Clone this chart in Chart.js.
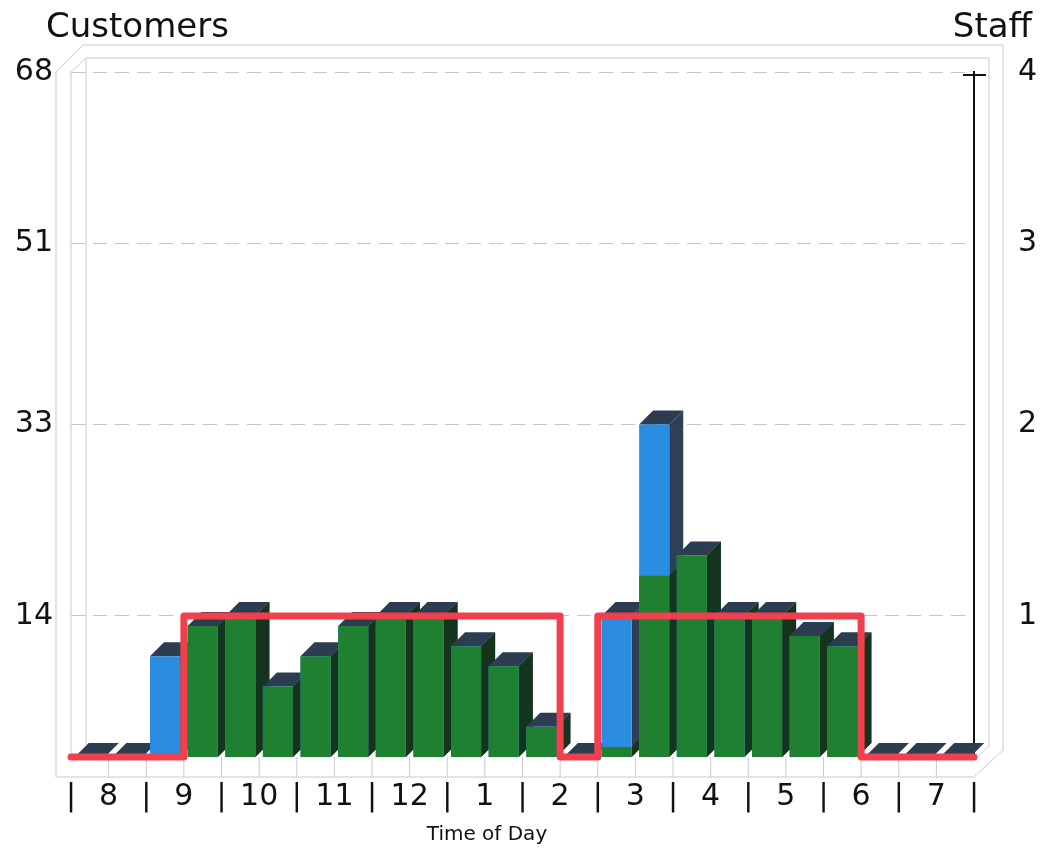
<!DOCTYPE html>
<html>
<head>
<meta charset="utf-8">
<script src="https://cdn.jsdelivr.net/npm/chart.js@4.4.0/dist/chart.umd.min.js"></script>
<style>
  body { margin: 0; background: #fff; }
  #wrap { width: 1040px; height: 848px; }
</style>
</head>
<body>
<div id="wrap"><canvas id="staffChart" width="1040" height="848"></canvas></div>
<script>
// half-hour slots, 8:00 to 7:30
const slotLabels = ['8:00', '8:30', '9:00', '9:30', '10:00', '10:30', '11:00', '11:30',
    '12:00', '12:30', '1:00', '1:30', '2:00', '2:30', '3:00', '3:30',
    '4:00', '4:30', '5:00', '5:30', '6:00', '6:30', '7:00', '7:30'];
const hourLabels = ['8', '9', '10', '11', '12', '1', '2', '3', '4', '5', '6', '7'];

// blue = all customers, green = customers being served
const customers = [0, 0, 10, 13, 14, 7, 10, 13, 14, 14, 11, 9, 3, 0, 14, 33, 20, 14, 14, 12, 11, 0, 0, 0];
const served    = [0, 0, 0, 13, 14, 7, 10, 13, 14, 14, 11, 9, 3, 0, 1, 18, 20, 14, 14, 12, 11, 0, 0, 0];
const staff     = [0, 0, 0, 1, 1, 1, 1, 1, 1, 1, 1, 1, 1, 0, 1, 1, 1, 1, 1, 1, 1, 0, 0, 0];

const customerTicks = [14, 33, 51, 68];
const staffTicks = [1, 2, 3, 4];
// staff axis is drawn against the customer gridlines (0,1,2,3,4 -> 0,14,33,51,68)
const staffLevels = [0, 14, 33, 51, 68];

const FONT = 'DejaVu Sans';
const INK = '#111';
const FRAME = '#c9c9cf';
const DEPTH = 14;

function staffPoints() {
    let pts = [];
    for (let i = 0; i < staff.length; i++) {
        pts.push({ x: i, y: staffLevels[staff[i]] });
        pts.push({ x: i + 1, y: staffLevels[staff[i]] });
    }
    return pts;
}

function poly(ctx, pts, fill) {
    ctx.beginPath();
    ctx.moveTo(pts[0][0], pts[0][1]);
    for (let k = 1; k < pts.length; k++) ctx.lineTo(pts[k][0], pts[k][1]);
    ctx.closePath();
    ctx.fillStyle = fill;
    ctx.fill();
}

function line(ctx, x1, y1, x2, y2) {
    ctx.beginPath();
    ctx.moveTo(x1, y1);
    ctx.lineTo(x2, y2);
    ctx.stroke();
}

// box frame + 3D faces of the bars, under the library's front faces
const depthPlugin = {
    id: 'depth',
    beforeDatasetsDraw(chart) {
        const ctx = chart.ctx;
        const a = chart.chartArea;
        const L = a.left, R = a.right, T = a.top, B = a.bottom;
        ctx.save();
        ctx.strokeStyle = FRAME;
        ctx.lineWidth = 1;
        // outer box
        line(ctx, L - 15, T, L - 15, B + 20);
        line(ctx, L - 15, B + 20, R, B + 20);
        line(ctx, L - 15, T, L + 12, T - 27);
        line(ctx, L + 12, T - 27, R + 29, T - 27);
        line(ctx, R + 29, T - 27, R + 29, B - 7);
        line(ctx, R, B + 20, R + 29, B - 7);
        // inner box
        line(ctx, L, T, L, B);
        line(ctx, L, T, L + 15, T - 14);
        line(ctx, L + 15, T - 14, L + 15, B - 12);
        line(ctx, L + 15, T - 14, R + 15, T - 14);
        line(ctx, R + 15, T - 14, R + 15, B - 11);
        line(ctx, R, B + 3, R + 15, B - 11);
        // floor divisions
        const step = (R - L) / slotLabels.length;
        for (let i = 1; i < slotLabels.length; i++) {
            line(ctx, L + i * step, B, L + i * step, B + 20);
        }
        ctx.restore();

        const blue = chart.getDatasetMeta(2).data;
        const green = chart.getDatasetMeta(1).data;
        ctx.save();
        for (let j = 0; j < blue.length; j++) {
            const b = blue[j], g = green[j];
            const x0 = b.x - b.width / 2, x1 = b.x + b.width / 2;
            const top = b.y, base = b.base;
            poly(ctx, [[x1, top], [x1 + DEPTH, top - DEPTH], [x1 + DEPTH, base - DEPTH], [x1, base]], '#2d4055');
            if (served[j] > 0) {
                poly(ctx, [[x1, g.y], [x1 + DEPTH, g.y - DEPTH], [x1 + DEPTH, base - DEPTH], [x1, base]], '#15341d');
            }
            poly(ctx, [[x0, top], [x0 + DEPTH, top - DEPTH], [x1 + DEPTH, top - DEPTH], [x1, top]], '#2c3d52');
        }
        ctx.restore();
    },
    afterDraw(chart) {
        const ctx = chart.ctx;
        const a = chart.chartArea;
        ctx.save();
        ctx.strokeStyle = '#111';
        ctx.lineWidth = 2;
        line(ctx, a.right - 11, a.top + 3, a.right + 12, a.top + 3);
        ctx.fillStyle = INK;
        ctx.textBaseline = 'alphabetic';
        ctx.font = '34px "' + FONT + '"';
        ctx.textAlign = 'left';
        ctx.fillText('Customers', 46, 37);
        ctx.textAlign = 'right';
        ctx.fillText('Staff', 1032, 37);
        ctx.font = '20px "' + FONT + '"';
        ctx.textAlign = 'center';
        ctx.fillText('Time of Day', 487, 840);
        ctx.restore();
    }
};

new Chart(document.getElementById('staffChart'), {
    data: {
        labels: slotLabels,
        datasets: [
            {
                type: 'line',
                label: 'Staff',
                data: staffPoints(),
                xAxisID: 'xLine',
                yAxisID: 'y1',
                borderColor: '#f0404e',
                borderWidth: 7,
                borderJoinStyle: 'round',
                borderCapStyle: 'round',
                pointRadius: 0,
                tension: 0,
                clip: false
            },
            {
                type: 'bar',
                label: 'Served',
                data: served,
                xAxisID: 'x',
                yAxisID: 'y',
                backgroundColor: '#208032',
                grouped: false,
                barPercentage: 0.8,
                categoryPercentage: 1
            },
            {
                type: 'bar',
                label: 'Customers',
                data: customers,
                xAxisID: 'x',
                yAxisID: 'y',
                backgroundColor: '#2b8de0',
                grouped: false,
                barPercentage: 0.8,
                categoryPercentage: 1
            }
        ]
    },
    options: {
        responsive: false,
        animation: false,
        layout: { padding: { top: 72, left: 0, right: 0, bottom: 0 } },
        plugins: {
            legend: { display: false },
            tooltip: { enabled: false }
        },
        scales: {
            x: {
                type: 'category',
                display: false,
                offset: true
            },
            xLine: {
                type: 'linear',
                position: 'bottom',
                min: 0,
                max: 24,
                afterFit: (scale) => { scale.height = 91; },
                grid: { display: false, drawTicks: false },
                border: { display: false },
                ticks: {
                    stepSize: 1,
                    autoSkip: false,
                    maxRotation: 0,
                    padding: 22,
                    color: INK,
                    font: { family: FONT, size: 30 },
                    callback: (v) => (v % 2 === 0 ? '|' : hourLabels[(v - 1) / 2])
                }
            },
            y: {
                type: 'linear',
                position: 'left',
                min: 0,
                max: 68,
                afterFit: (scale) => { scale.width = 71; },
                afterBuildTicks: (scale) => { scale.ticks = customerTicks.map(v => ({ value: v })); },
                grid: { color: '#c6c6c6', lineWidth: 1, drawTicks: false },
                border: { display: false, dash: [14, 8] },
                ticks: {
                    padding: 18,
                    color: INK,
                    font: { family: FONT, size: 30 }
                }
            },
            y1: {
                type: 'linear',
                position: 'right',
                min: 0,
                max: 68,
                afterFit: (scale) => { scale.width = 66; },
                afterBuildTicks: (scale) => { scale.ticks = customerTicks.map(v => ({ value: v })); },
                grid: { display: false, drawTicks: false },
                border: { display: true, color: '#111', width: 2 },
                ticks: {
                    padding: 44,
                    color: INK,
                    font: { family: FONT, size: 30 },
                    callback: (v) => staffTicks[customerTicks.indexOf(v)]
                }
            }
        }
    },
    plugins: [depthPlugin]
});
</script>
</body>
</html>
